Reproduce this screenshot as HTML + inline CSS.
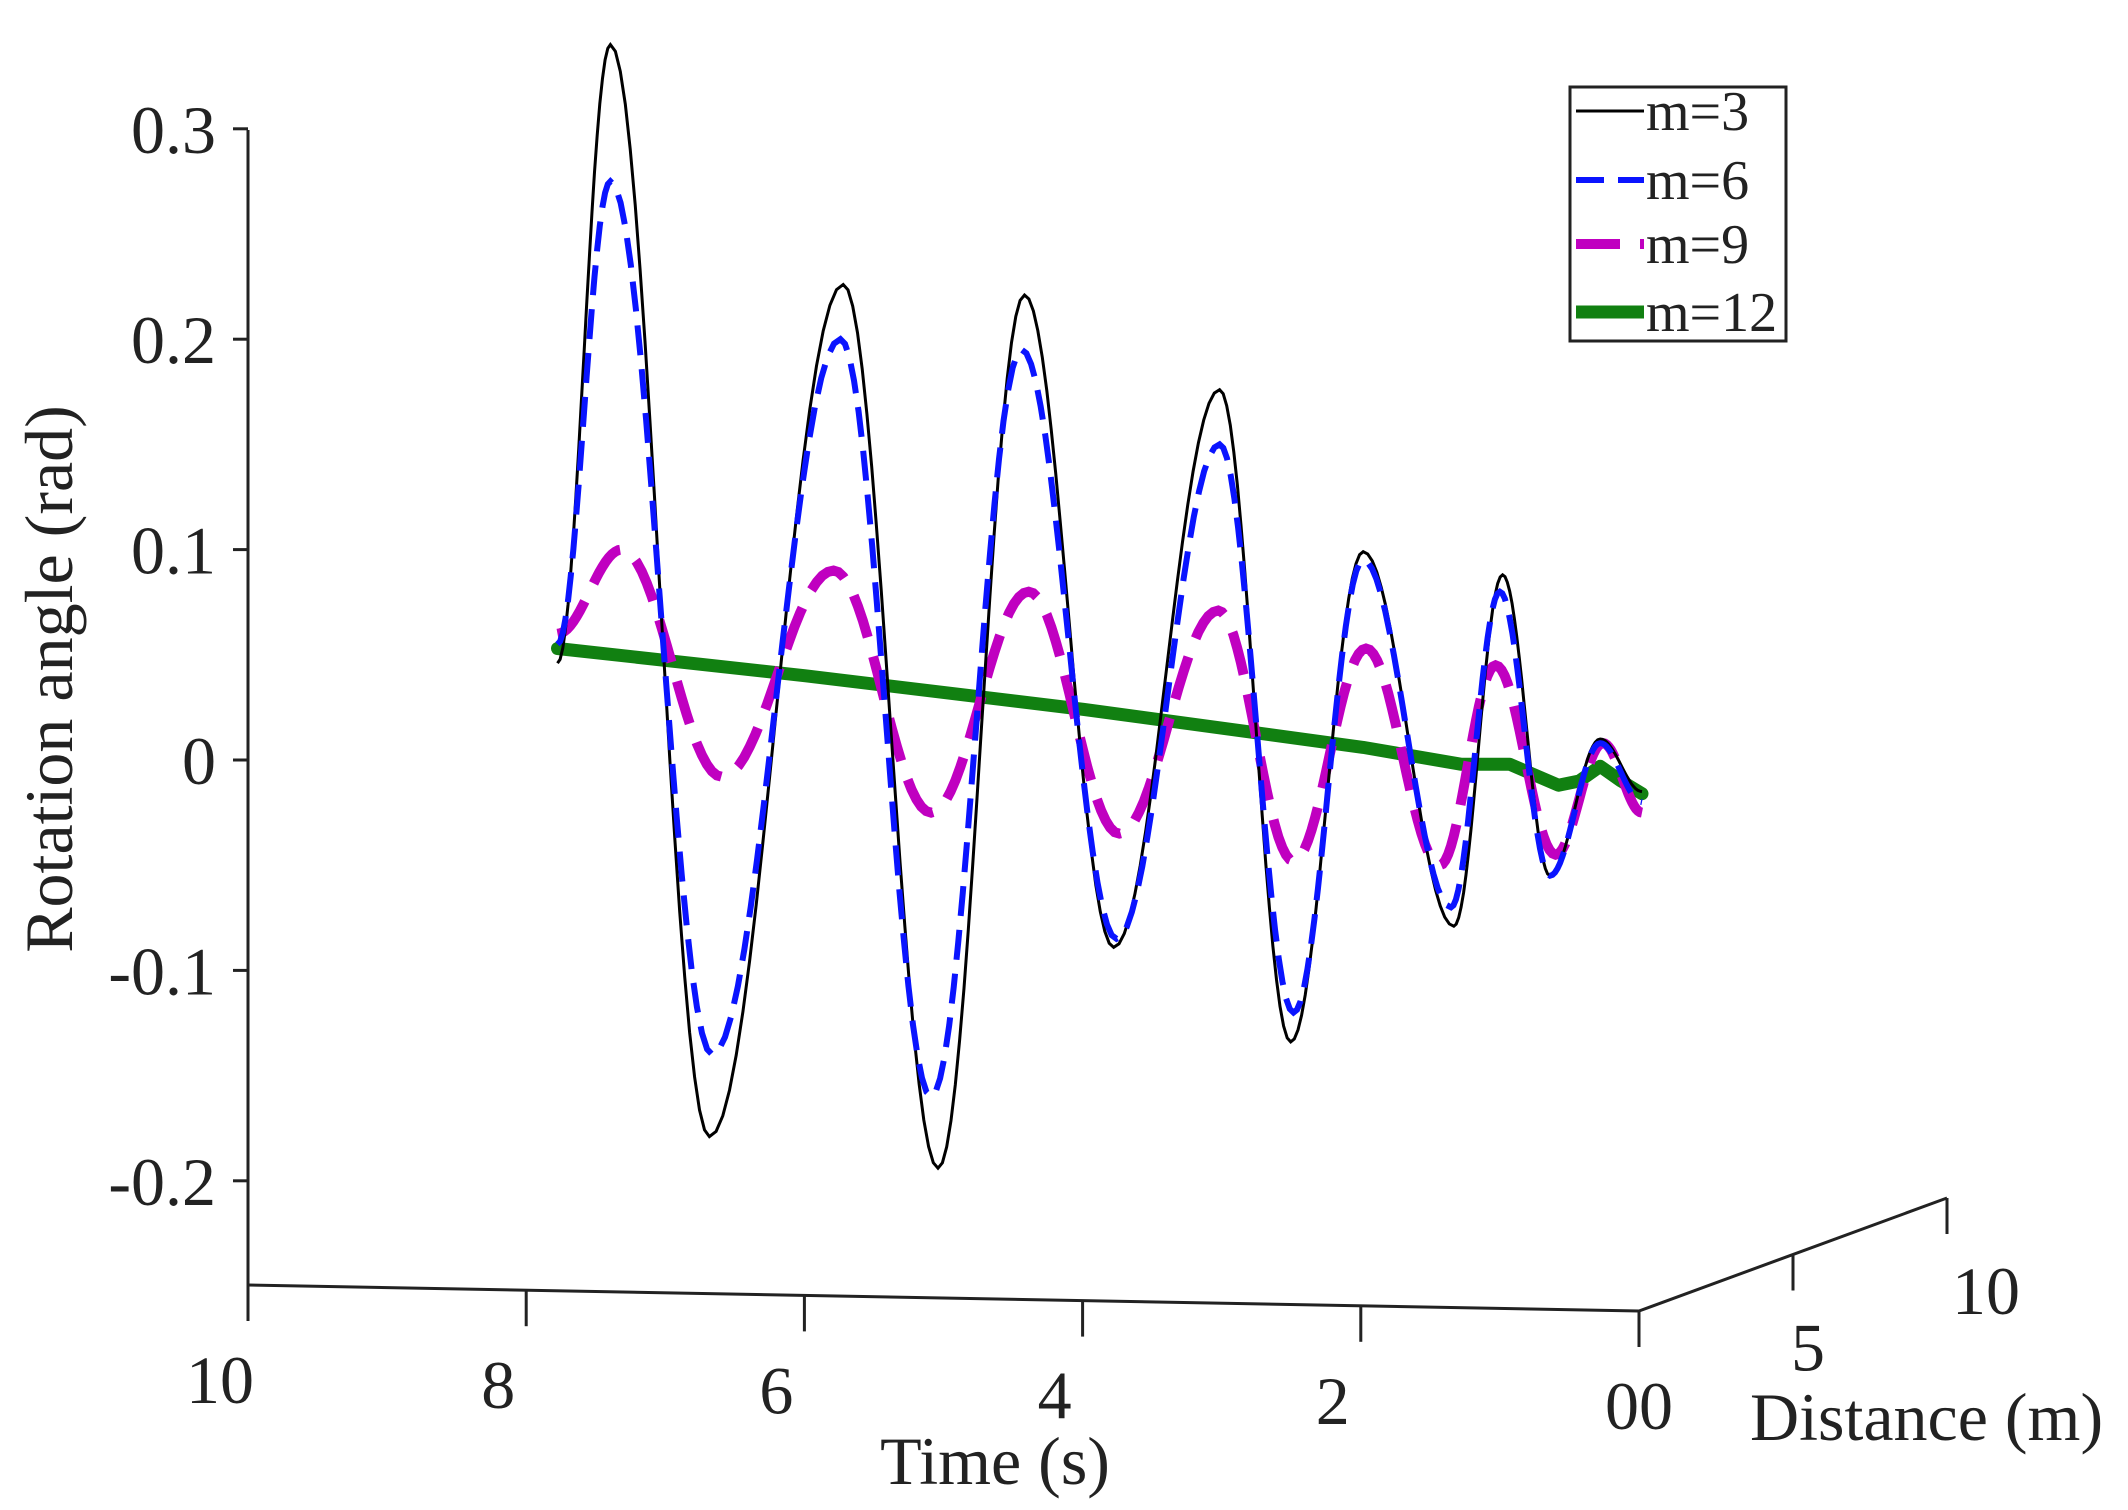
<!DOCTYPE html>
<html><head><meta charset="utf-8"><style>
html,body{margin:0;padding:0;background:#fff;}
svg{display:block;font-family:"Liberation Serif",serif;}
</style></head><body>
<svg id="chart" width="2128" height="1510" viewBox="0 0 2128 1510">
<g id="axes"></g>
<g id="series"></g>
<text x="0" y="0" transform="translate(72,679) rotate(-90)" text-anchor="middle" font-size="68" fill="#222">Rotation angle (rad)</text>
<text x="995" y="1484" text-anchor="middle" font-size="68" fill="#222">Time (s)</text>
<text x="1750" y="1440" font-size="68" fill="#222">Distance (m)</text>
<g>
<rect x="1570" y="87" width="216" height="254" fill="#fff" stroke="#222" stroke-width="3"/>
<line x1="1576" y1="111" x2="1644" y2="111" stroke="#000" stroke-width="3"/>
<text x="1646" y="130" font-size="56" fill="#222">m=3</text>
<line x1="1576" y1="180" x2="1644" y2="180" stroke="#0a14ff" stroke-width="6" stroke-dasharray="28 14"/>
<text x="1646" y="199" font-size="56" fill="#222">m=6</text>
<line x1="1576" y1="244" x2="1644" y2="244" stroke="#c000c0" stroke-width="10" stroke-dasharray="44 20"/>
<text x="1646" y="263" font-size="56" fill="#222">m=9</text>
<line x1="1576" y1="312" x2="1644" y2="312" stroke="#118011" stroke-width="13"/>
<text x="1646" y="331" font-size="56" fill="#222">m=12</text>
</g>
</svg>
<script>
const yTicks = [0.3, 0.2, 0.1, 0, -0.1, -0.2];
const yTickLabels = ["0.3", "0.2", "0.1", "0", "-0.1", "-0.2"];
const xTicks = [10, 8, 6, 4, 2, 0];
const xTickLabels = ["10", "8", "6", "4", "2", "00"];
const zTicks = [5, 10];
const zTickLabels = ["5", "10"];

const t3 = [7.78, 7.4, 6.69, 5.73, 5.05, 4.43, 3.79, 3.03, 2.52, 2.0, 1.35, 1.0, 0.66, 0.3, 0];
const v3 = [0.046, 0.34, -0.179, 0.226, -0.194, 0.221, -0.089, 0.176, -0.134, 0.099, -0.079, 0.088, -0.055, 0.01, -0.015];
const t6 = [7.78, 7.4, 6.67, 5.75, 5.1, 4.45, 3.77, 3.03, 2.5, 2.0, 1.37, 1.02, 0.66, 0.3, 0];
const v6 = [0.055, 0.275, -0.14, 0.2, -0.16, 0.195, -0.085, 0.15, -0.12, 0.095, -0.07, 0.08, -0.055, 0.008, -0.02];
const t9 = [7.78, 7.32, 6.6, 5.8, 5.1, 4.4, 3.75, 3.04, 2.5, 1.98, 1.45, 1.05, 0.62, 0.28, 0];
const v9 = [0.06, 0.1, -0.008, 0.09, -0.025, 0.08, -0.035, 0.071, -0.048, 0.053, -0.05, 0.045, -0.045, 0.008, -0.025];
const t12 = [7.78, 6, 4, 2, 1.3, 0.95, 0.6, 0.45, 0.3, 0.15, 0];
const v12 = [0.053, 0.040, 0.024, 0.006, -0.002, -0.002, -0.012, -0.01, -0.003, -0.01, -0.016];

const NS = "http://www.w3.org/2000/svg";
function xAxisX(t){ return 1639 - t * 139.1; }
function xAxisY(t){ return 1311 - t * 2.6; }
function yScale(v){ return 760 - v * 2104; }
function zX(d){ return 1639 + d * 30.8; }
function zY(d){ return 1311 - d * 11.3; }
function cx(t){ return 1642 - t * 139.4; }

const axes = document.getElementById('axes');
function mk(tag, attrs, parent){
  const e = document.createElementNS(NS, tag);
  for (const k in attrs) e.setAttribute(k, attrs[k]);
  parent.appendChild(e);
  return e;
}
let el = mk('line', {x1:248, y1:130, x2:248, y2:1285, stroke:'#222', 'stroke-width':3}, axes);


yTicks.forEach((v, i) => {
  const y = yScale(v);
  const tk = mk('line', {x1:233, y1:y, x2:248, y2:y, stroke:'#222', 'stroke-width':3}, axes);
  
  
  const tx = mk('text', {x:216, y:y + 24, 'text-anchor':'end', 'font-size':68, fill:'#222'}, axes);
  tx.textContent = yTickLabels[i];
  
  
});
el = mk('line', {x1:xAxisX(10), y1:xAxisY(10), x2:xAxisX(0), y2:xAxisY(0), stroke:'#222', 'stroke-width':3}, axes);


xTicks.forEach((t, i) => {
  const x = xAxisX(t), y = xAxisY(t);
  const tk = mk('line', {x1:x, y1:y, x2:x, y2:y + 36, stroke:'#222', 'stroke-width':3}, axes);
  
  
  const tx = mk('text', {x:x - (t === 0 ? 0 : 28), y:y + 118, 'text-anchor':'middle', 'font-size':68, fill:'#222'}, axes);
  tx.textContent = xTickLabels[i];
  
  
});
el = mk('line', {x1:zX(0), y1:zY(0), x2:zX(10), y2:zY(10), stroke:'#222', 'stroke-width':3}, axes);


zTicks.forEach((d, i) => {
  const x = zX(d), y = zY(d);
  const tk = mk('line', {x1:x, y1:y, x2:x, y2:y + 36, stroke:'#222', 'stroke-width':3}, axes);
  
  
  const tx = mk('text', {x:x + 15 + (d === 10 ? 24 : 0), y:y + 116, 'text-anchor':'middle', 'font-size':68, fill:'#222'}, axes);
  tx.textContent = zTickLabels[i];
  
  
});

function smoothPath(ts, vs){
  let d = 'M' + cx(ts[0]).toFixed(1) + ' ' + yScale(vs[0]).toFixed(1);
  for (let i = 0; i < ts.length - 1; i++){
    for (let k = 1; k <= 20; k++){
      const f = k / 20;
      const t = ts[i] + (ts[i+1] - ts[i]) * f;
      const w = (1 - Math.cos(Math.PI * f)) / 2;
      const v = vs[i] + (vs[i+1] - vs[i]) * w;
      d += ' L' + cx(t).toFixed(1) + ' ' + yScale(v).toFixed(1);
    }
  }
  return d;
}
function linePath(ts, vs){
  return ts.map((t, i) => (i ? 'L' : 'M') + cx(t).toFixed(1) + ' ' + yScale(vs[i]).toFixed(1)).join(' ');
}
const sg = document.getElementById('series');
let p = mk('path', {d:linePath(t12, v12), fill:'none', stroke:'#118011', 'stroke-width':13, 'stroke-linejoin':'round', 'stroke-linecap':'round'}, sg);


p = mk('path', {d:smoothPath(t9, v9), fill:'none', stroke:'#c000c0', 'stroke-width':10, 'stroke-dasharray':'44 20'}, sg);


p = mk('path', {d:smoothPath(t3, v3), fill:'none', stroke:'#000', 'stroke-width':3}, sg);


p = mk('path', {d:smoothPath(t6, v6), fill:'none', stroke:'#0a14ff', 'stroke-width':6, 'stroke-dasharray':'30 14'}, sg);


</script>
</body></html>
